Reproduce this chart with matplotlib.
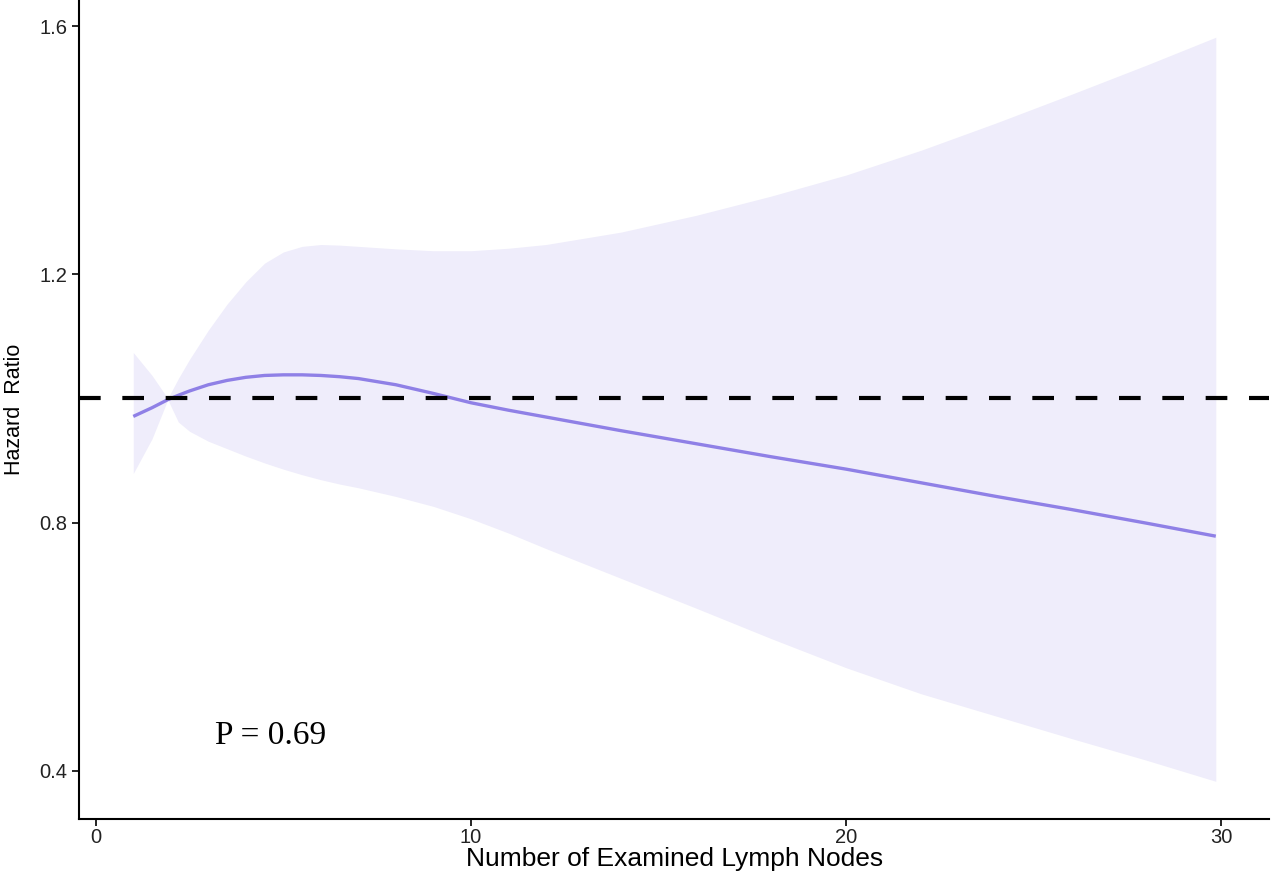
import numpy as np
import matplotlib
matplotlib.use("Agg")
import matplotlib.pyplot as plt

# number of examined lymph nodes
nodes = [1, 1.5, 1.92, 2.2, 2.5, 3, 3.5, 4, 4.5, 5, 5.5, 6, 6.5, 7, 8, 9, 10,
         11, 12, 14, 16, 18, 20, 22, 24, 26, 28, 29.85]
# hazard ratio estimate
hr = [0.971, 0.985, 0.998, 1.005, 1.012, 1.022, 1.029, 1.034, 1.037, 1.038, 1.038,
      1.037, 1.035, 1.032, 1.022, 1.008, 0.993, 0.981, 0.970, 0.948, 0.927, 0.906,
      0.886, 0.864, 0.842, 0.821, 0.799, 0.778]
# confidence band
hr_upper = [1.074, 1.037, 1.000, 1.032, 1.063, 1.110, 1.152, 1.188, 1.218, 1.236, 1.245,
            1.248, 1.247, 1.245, 1.241, 1.238, 1.238, 1.242, 1.248, 1.268, 1.295,
            1.326, 1.360, 1.400, 1.444, 1.490, 1.537, 1.582]
hr_lower = [0.879, 0.935, 0.998, 0.962, 0.947, 0.931, 0.919, 0.907, 0.896, 0.886, 0.877,
            0.869, 0.862, 0.856, 0.842, 0.826, 0.806, 0.783, 0.758, 0.710, 0.662,
            0.613, 0.566, 0.524, 0.488, 0.452, 0.417, 0.383]

xticks = [0, 10, 20, 30]
yticks = [0.4, 0.8, 1.2, 1.6]

plt.rcParams['font.family'] = ['Liberation Sans', 'DejaVu Sans']

fig = plt.figure(figsize=(12.72, 8.71), dpi=100)
ax = fig.add_axes([0.062, 0.06, 0.936, 0.94])

ax.fill_between(nodes, hr_lower, hr_upper, color="#efedfb", linewidth=0)
ax.plot(nodes, hr, color="#8f80e6", lw=2.4, solid_capstyle="butt")
ax.axhline(1.0, color="black", lw=3, linestyle=(0, (5.2, 5.2)))

ax.text(4.65, 0.456, "P = 0.69", family="Liberation Serif", fontsize=24,
        ha="center", va="center")

ax.set_xlim(-0.45, 31.28)
ax.set_ylim(0.3227, 1.642)
ax.set_xticks(xticks)
ax.set_yticks(yticks)
ax.set_xticklabels([str(t) for t in xticks])
ax.set_yticklabels([str(t) for t in yticks])

for s in ["top", "right"]:
    ax.spines[s].set_visible(False)
for s in ["left", "bottom"]:
    ax.spines[s].set_linewidth(1.5)
ax.tick_params(axis="both", length=5, width=1.2, labelsize=14.5, colors="black",
               labelcolor="#222222")
ax.tick_params(axis="x", pad=2)

ax.set_xlabel("Number of Examined Lymph Nodes", fontsize=19, labelpad=0)
ax.set_ylabel("Hazard  Ratio", fontsize=15.5, labelpad=10)

fig.savefig("out.png", dpi=100)
